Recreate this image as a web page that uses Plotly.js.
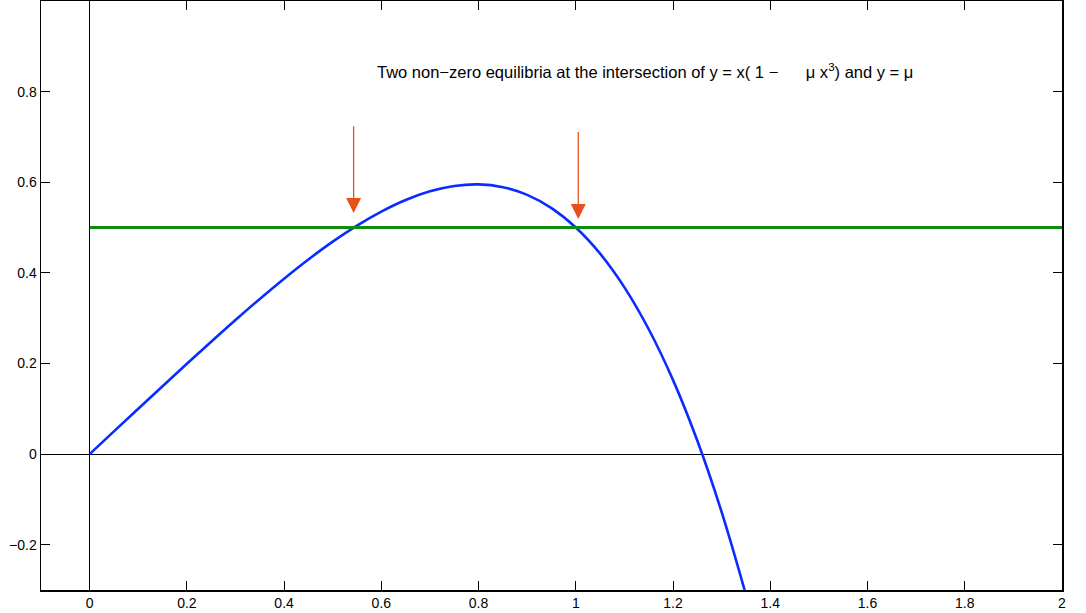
<!DOCTYPE html>
<html>
<head>
<meta charset="utf-8">
<script src="https://cdn.plot.ly/plotly-3.0.1.min.js"></script>
<style>html,body{margin:0;padding:0;background:#fff;}#chart{width:1086px;height:613px;}</style>
</head>
<body>
<div id="chart"></div>
<script>
// Curve y = x(1 - mu x^3)
const curveX = [0, 0.05, 0.1, 0.15, 0.2, 0.25, 0.3, 0.35, 0.4, 0.45, 0.5, 0.55, 0.6, 0.65, 0.7, 0.75, 0.8, 0.85, 0.9, 0.95, 1.0, 1.05, 1.1, 1.15, 1.2, 1.25, 1.3, 1.35];
const curveY = [0, 0.05, 0.0999, 0.1497, 0.1992, 0.2480, 0.2960, 0.3425, 0.3872, 0.4295, 0.4688, 0.5043, 0.5352, 0.5608, 0.5800, 0.5918, 0.5952, 0.5890, 0.5720, 0.5428, 0.5, 0.4423, 0.3680, 0.2755, 0.1632, 0.0293, -0.1281, -0.3108];
// Horizontal line y = mu
const muX = [0, 2];
const muY = [0.5, 0.5];
// Arrows pointing to the equilibria: tail and tip
const arrowX = [0.543, 1.005];
const arrowTailY = [0.727, 0.714];
const arrowTipY = [0.532, 0.519];
const titleText = 'Two non\u2212zero equilibria at the intersection of y = x( 1 \u2212\u00A0\u00A0\u00A0\u00A0\u00A0 \u03bc x<sup>3</sup>) and y = \u03bc';
const xTicks = [0, 0.2, 0.4, 0.6, 0.8, 1, 1.2, 1.4, 1.6, 1.8, 2];
const yTicks = [-0.2, 0, 0.2, 0.4, 0.6, 0.8];

const traces = [
  {x: curveX, y: curveY, mode: 'lines', line: {color: '#0a2dff', width: 2.6, shape: 'spline'}, hoverinfo: 'skip'},
  {x: muX, y: muY, mode: 'lines', line: {color: '#0f8c0f', width: 3}, hoverinfo: 'skip'}
];

const annotations = [
  {x: 1.143, y: 0.845, xref: 'x', yref: 'y', text: titleText, showarrow: false,
   font: {family: 'Liberation Sans, Arial, sans-serif', size: 16.5, color: '#000'}}
];
arrowX.forEach((ax, i) => {
  annotations.push({x: ax, y: arrowTipY[i], ax: ax, ay: arrowTailY[i], xref: 'x', yref: 'y', axref: 'x', ayref: 'y',
    text: '', showarrow: true, arrowhead: 2, arrowsize: 2.3, arrowwidth: 1.3, arrowcolor: '#e8501a', standoff: 0});
});

const axisCommon = {
  showline: true, linecolor: '#000', linewidth: 1.5, mirror: 'allticks',
  ticks: 'inside', ticklen: 9, tickcolor: '#000', tickwidth: 1,
  showgrid: false, zeroline: true, zerolinecolor: '#000', zerolinewidth: 1,
  tickfont: {family: 'Liberation Sans, Arial, sans-serif', size: 14, color: '#000'}
};

const layout = {
  width: 1086, height: 613,
  margin: {l: 41, r: 24, t: 1, b: 23},
  paper_bgcolor: '#fff', plot_bgcolor: '#fff',
  showlegend: false,
  xaxis: Object.assign({}, axisCommon, {range: [-0.1, 2], tickvals: xTicks, ticktext: xTicks.map(String)}),
  yaxis: Object.assign({}, axisCommon, {range: [-0.3, 1], tickvals: yTicks, ticktext: yTicks.map(v => v < 0 ? '\u2212' + Math.abs(v) : String(v))}),
  annotations: annotations
};

Plotly.newPlot('chart', traces, layout, {displayModeBar: false, staticPlot: true});
</script>
</body>
</html>
